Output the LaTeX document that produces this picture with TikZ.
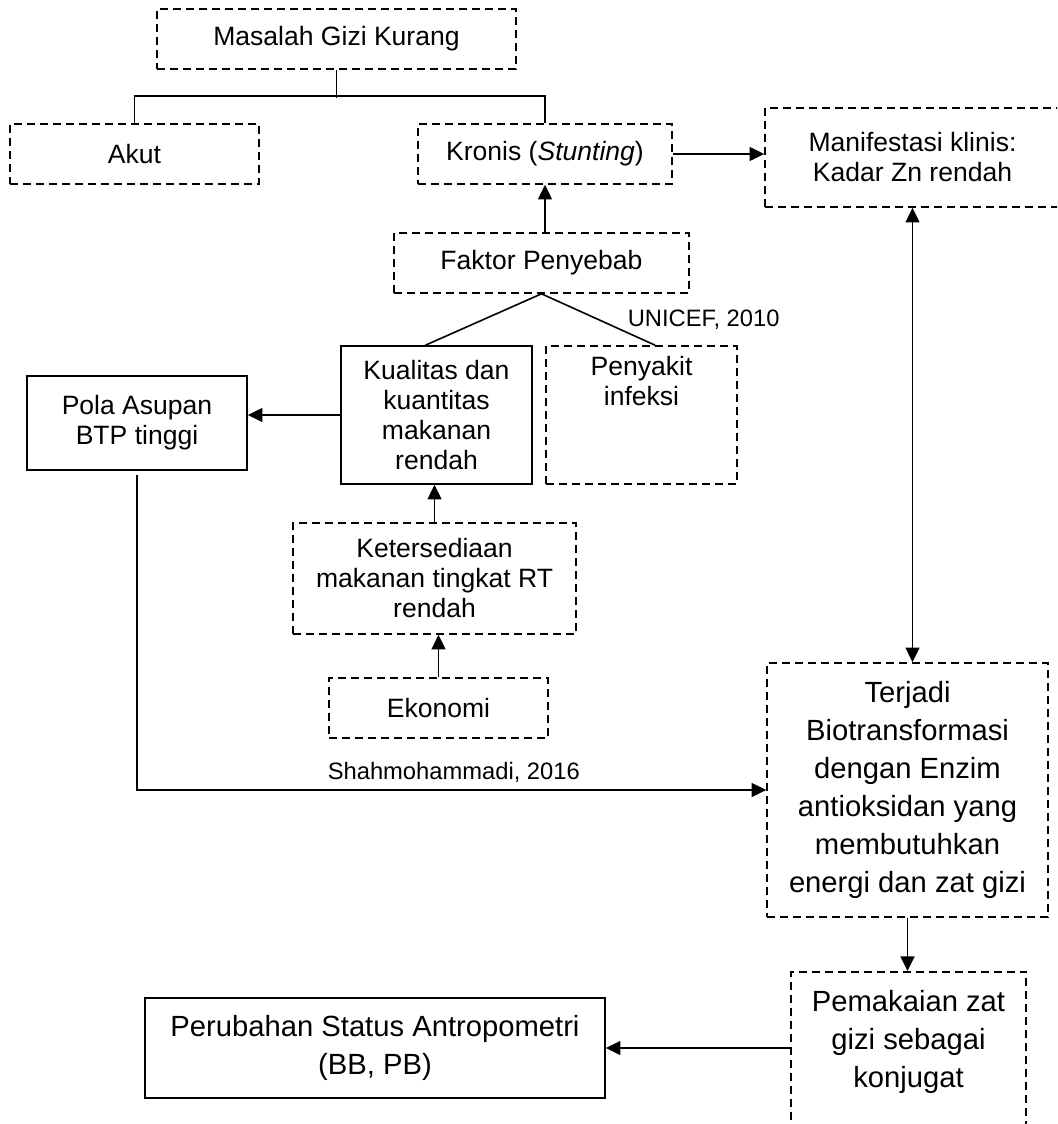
\documentclass[tikz,border=0pt]{standalone}
\usepackage{fontspec}
\setmainfont{Liberation Sans}
\usetikzlibrary{arrows.meta}

\tikzset{every picture/.style={line width=1.2pt}}
\tikzset{
	txt/.style={font=\fontsize{19.9}{22.5}\selectfont, align=center},
	bigtxt/.style={font=\fontsize{21.9}{28.5}\selectfont, align=center},
	smalltxt/.style={font=\fontsize{17.8}{21}\selectfont, inner sep=0pt},
	dashbox/.style={draw, dash pattern=on 6pt off 3.75pt, inner sep=2pt},
	solidbox/.style={draw, inner sep=2pt},
	arr/.style={-{Triangle[length=11pt,width=10.5pt]}},
	dblarr/.style={{Triangle[length=11pt,width=10.5pt]}-{Triangle[length=11pt,width=10.5pt]}}
}

\begin{document}
\begin{tikzpicture}[x=0.75pt,y=0.75pt,yscale=-1,xscale=1]
	%set diagram left start at 0, and has height of 1124
	\useasboundingbox (0,0) rectangle (1057,1124);
	\clip (0,0) rectangle (1057,1124);
	
	%Shape: Rectangle [masalah]
	\draw (336.5,39) node [dashbox, txt, minimum width=269.25pt, minimum height=45pt] (masalah) {Masalah Gizi Kurang};
	%Shape: Rectangle [akut]
	\draw (134.5,154) node [dashbox, txt, minimum width=186.75pt, minimum height=45pt] (akut) {Akut};
	%Shape: Rectangle [kronis]
	\draw (545,154) node [dashbox, txt, minimum width=190.5pt, minimum height=45pt] (kronis) {Kronis (\textit{Stunting})};
	%Shape: Rectangle [manif]
	\draw (912.5,157.5) node [dashbox, txt, minimum width=221.25pt, minimum height=74.25pt] (manif) {Manifestasi klinis:\\Kadar Zn rendah};
	%Shape: Rectangle [faktor]
	\draw (541.5,263) node [dashbox, txt, minimum width=221.25pt, minimum height=45pt] (faktor) {Faktor Penyebab};
	%Shape: Rectangle [kualitas]
	\draw (436.5,415) node [solidbox, txt, minimum width=143.25pt, minimum height=103.5pt] (kualitas) {Kualitas dan\\kuantitas\\makanan\\rendah};
	%Shape: Rectangle [penyakit]
	\draw (641.5,415) node [dashbox, txt, minimum width=143.25pt, minimum height=103.5pt] (penyakit) {Penyakit\\infeksi\\\strut\\\strut};
	%Shape: Rectangle [pola]
	\draw (137,423) node [solidbox, txt, minimum width=165pt, minimum height=70.5pt] (pola) {Pola Asupan\\BTP tinggi};
	%Shape: Rectangle [keter]
	\draw (434.5,578.5) node [dashbox, txt, minimum width=212.25pt, minimum height=83.25pt] (keter) {Ketersediaan\\makanan tingkat RT\\rendah};
	%Shape: Rectangle [ekonomi]
	\draw (438.5,708) node [dashbox, txt, minimum width=164.25pt, minimum height=45pt] (ekonomi) {Ekonomi};
	%Shape: Rectangle [terjadi]
	\draw (907.5,790) node [dashbox, bigtxt, minimum width=210.75pt, minimum height=190.5pt] (terjadi) {Terjadi\\Biotransformasi\\dengan Enzim\\antioksidan yang\\membutuhkan\\energi dan zat gizi};
	%Shape: Rectangle [pemakaian]
	\draw (908.5,971) node [dashbox, bigtxt, anchor=north, minimum width=176.25pt, inner ysep=13.9pt] (pemakaian) {Pemakaian zat\\gizi sebagai\\konjugat\\\strut\\\strut};
	%Shape: Rectangle [perubahan]
	\draw (375,1048) node [solidbox, bigtxt, minimum width=345pt, minimum height=75pt] (perubahan) {Perubahan Status Antropometri\\(BB, PB)};
	
	%Straight Lines [tree]
	\draw (masalah.south) -- ++(0,28);
	\draw (akut.north) -- ++(0,-27) -| (kronis.north);
	%Straight Lines [faktor]
	\draw [arr] (kronis.south |- faktor.north) -- (kronis.south);
	\draw (faktor.south) -- (kualitas.99);
	\draw (faktor.south) -- (penyakit.79);
	%Straight Lines [manif]
	\draw [arr] (kronis.east) -- (kronis.east -| manif.west);
	\draw [dblarr] (manif.south) -- (manif.south |- terjadi.north);
	%Straight Lines [makanan]
	\draw [arr] (kualitas.west) -- (kualitas.west -| pola.east);
	\draw [arr] (keter.north) -- (keter.north |- kualitas.south);
	\draw [arr] (ekonomi.north) -- (ekonomi.north |- keter.south);
	%Straight Lines [btp]
	\draw [arr, shorten <=3pt] (pola.south) |- (terjadi.west);
	%Straight Lines [konjugat]
	\draw [arr] (terjadi.south) -- (terjadi.south |- pemakaian.north);
	\draw [arr] (perubahan.east -| pemakaian.west) -- (perubahan.east);
	
	% Text Node
	\draw (627,320) node [smalltxt, anchor=west] (unicef) {UNICEF, 2010};
	% Text Node
	\draw (327,772) node [smalltxt, anchor=west] (shah) {Shahmohammadi, 2016};
	
\end{tikzpicture}
\end{document}
